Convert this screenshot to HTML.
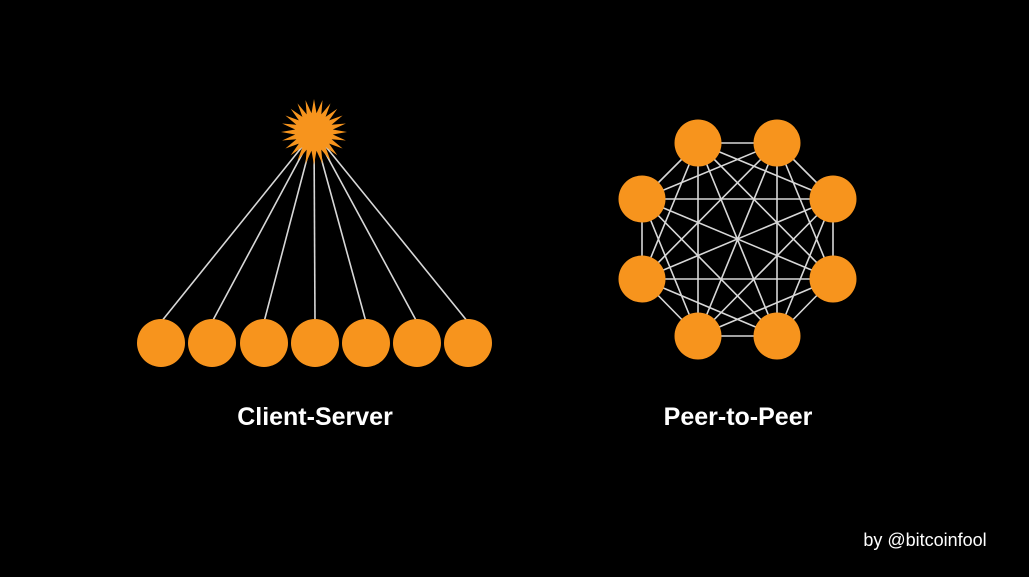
<!DOCTYPE html>
<html><head><meta charset="utf-8"><style>
html,body{margin:0;padding:0;background:#000;}
svg{display:block}
</style></head><body>
<svg id="s" width="1029" height="577" xmlns="http://www.w3.org/2000/svg">
<rect width="1029" height="577" fill="#000"/>
<g id="lines" stroke="#d8d8d8" stroke-width="1.6"></g>
<g id="shapes" fill="#f7941d"></g>
<text x="315" y="425" fill="#fff" font-family="Liberation Sans, sans-serif" font-weight="bold" font-size="25" text-anchor="middle">Client-Server</text>
<text x="738" y="425" fill="#fff" font-family="Liberation Sans, sans-serif" font-weight="bold" font-size="25" text-anchor="middle">Peer-to-Peer</text>
<text x="925" y="546" fill="#fff" font-family="Liberation Sans, sans-serif" font-size="18" text-anchor="middle">by @bitcoinfool</text>
</svg>
<script>
var NS="http://www.w3.org/2000/svg",L=document.getElementById("lines"),S=document.getElementById("shapes");
function el(p,t,a){var e=document.createElementNS(NS,t);for(var k in a)e.setAttribute(k,a[k]);p.appendChild(e);}
var sx=314,sy=132;
var cx=[161,212,264,315,366,417,468];
cx.forEach(function(x){el(L,"line",{x1:sx,y1:sy,x2:x,y2:322});});
cx.forEach(function(x){el(S,"circle",{cx:x,cy:343,r:24});});
var pts=[],n=24;
for(var i=0;i<n*2;i++){var r=i%2?19:33,a=i*Math.PI/n;pts.push((sx+r*Math.cos(a)).toFixed(1)+","+(sy+r*Math.sin(a)).toFixed(1));}
el(S,"polygon",{points:pts.join(" ")});
var P=[[698,143],[777,143],[833,199],[833,279],[777,336],[698,336],[642,279],[642,199]];
for(var i=0;i<8;i++)for(var j=i+1;j<8;j++)el(L,"line",{x1:P[i][0],y1:P[i][1],x2:P[j][0],y2:P[j][1]});
P.forEach(function(p){el(S,"circle",{cx:p[0],cy:p[1],r:23.5});});
</script>
</body></html>
